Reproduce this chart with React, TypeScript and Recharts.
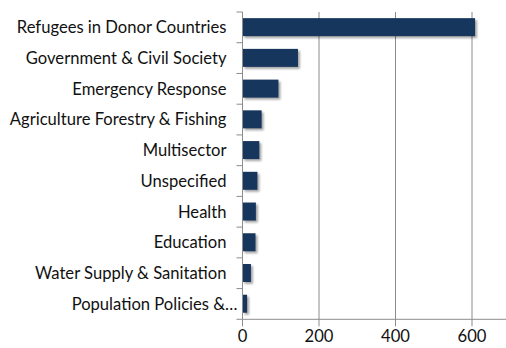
import React from 'react';
import { BarChart, Bar, XAxis, YAxis, CartesianGrid } from 'recharts';

const categories = [
  'Refugees in Donor Countries',
  'Government & Civil Society',
  'Emergency Response',
  'Agriculture Forestry & Fishing',
  'Multisector',
  'Unspecified',
  'Health',
  'Education',
  'Water Supply & Sanitation',
  'Population Policies &…',
];
const values = [608, 145, 94, 50, 44, 39, 35, 34, 22, 12];
const xTicks = [0, 200, 400, 600];

const data = categories.map((name, i) => ({ name, value: values[i] }));

const CHART_W = 520;
const CHART_H = 350;
const TOP = 12;
const X_AXIS_H = 30.7;
const Y_AXIS_W = 242.5;
const BAND = (CHART_H - TOP - X_AXIS_H) / categories.length;
const FONT = 'Lato, "Open Sans", sans-serif';
const FONT_SIZE = 16.6;
const AXIS_COLOR = '#8c8c8c';
const BAR_COLOR = '#17365d';
const TEXT_COLOR = '#111';

const YTick = (props: any) => {
  const { x, y, payload, index } = props;
  const axisX = x + 16;
  const truncated = String(payload.value).endsWith('…');
  return (
    <g>
      <line x1={axisX - 6} x2={axisX} y1={y - BAND / 2} y2={y - BAND / 2} stroke={AXIS_COLOR} />
      {index === categories.length - 1 && (
        <line x1={axisX - 6} x2={axisX} y1={y + BAND / 2} y2={y + BAND / 2} stroke={AXIS_COLOR} />
      )}
      <text
        x={truncated ? x + 11 : x}
        y={y}
        dy="0.355em"
        textAnchor="end"
        fill={TEXT_COLOR}
        fontSize={FONT_SIZE}
        fontFamily={FONT}
      >
        {payload.value}
      </text>
    </g>
  );
};

const BarShape = (p: any) => {
  const { x, y, width, height } = p;
  if (!width || width <= 0) return null;
  return (
    <g>
      <defs>
        <filter id="barShadow" x="-20%" y="-50%" width="140%" height="200%">
          <feGaussianBlur stdDeviation="1.3" />
        </filter>
      </defs>
      <rect x={x + 2} y={y + 2} width={width} height={height} fill="#000" opacity={0.35} filter="url(#barShadow)" />
      <rect x={x} y={y} width={width} height={height} fill={BAR_COLOR} />
    </g>
  );
};

export default function App() {
  return (
    <div style={{ position: 'fixed', left: 0, top: 0, width: 506, height: 348, overflow: 'hidden', background: '#fff' }}>
      <BarChart
        width={CHART_W}
        height={CHART_H}
        data={data}
        layout="vertical"
        margin={{ top: TOP, right: CHART_W - 510.25, left: 0, bottom: 0 }}
        barCategoryGap="20%"
      >
        <CartesianGrid horizontal={false} stroke={AXIS_COLOR} strokeWidth={1} />
        <XAxis
          type="number"
          domain={[0, 700]}
          ticks={xTicks}
          height={X_AXIS_H}
          stroke={AXIS_COLOR}
          tickSize={7}
          tickMargin={4}
          tick={{ fill: TEXT_COLOR, fontSize: FONT_SIZE, fontFamily: FONT }}
          interval={0}
        />
        <YAxis
          type="category"
          dataKey="name"
          width={Y_AXIS_W}
          stroke={AXIS_COLOR}
          tickLine={false}
          tickSize={6}
          tickMargin={10}
          tick={<YTick />}
          interval={0}
        />
        <Bar dataKey="value" fill={BAR_COLOR} shape={<BarShape />} isAnimationActive={false} />
      </BarChart>
    </div>
  );
}
